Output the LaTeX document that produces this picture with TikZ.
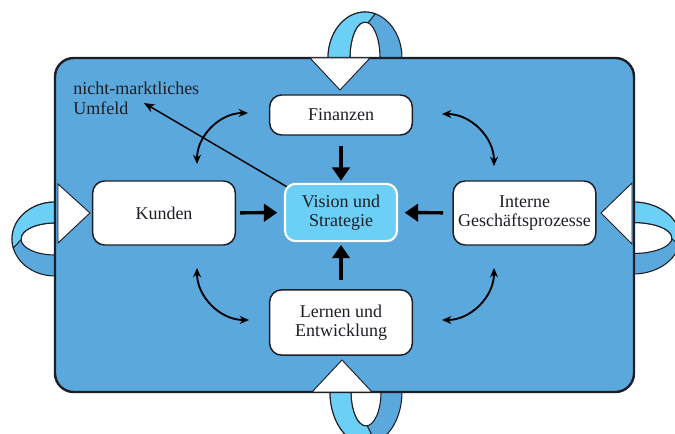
\documentclass[tikz,border=0pt]{standalone}
\usepackage{fontspec}
\setmainfont{Liberation Serif}
\usetikzlibrary{arrows.meta}
\definecolor{feld}{RGB}{91,168,220}
\definecolor{hell}{RGB}{107,207,246}
\definecolor{rand}{RGB}{30,30,38}
\begin{document}
\begin{tikzpicture}[x=0.75pt,y=0.75pt,font=\fontsize{13.5}{14.5}\selectfont,text=rand,
  box/.style={draw=rand,line width=1.1pt,fill=white,rounded corners=9pt,
    minimum width=107pt,inner xsep=2pt,align=center},
  band/.style={draw=rand,line width=0.8pt},
  keil/.style={draw=rand,line width=0.7pt,fill=white},
  gross/.style={line width=2.6pt,-{Triangle[length=10pt,width=13pt]}},
  bog/.style={line width=1.4pt,arrows={Stealth[length=7pt,width=6pt]-Stealth[length=7pt,width=6pt]}}]
  \useasboundingbox (0,0) rectangle (675,-434);
  \clip (0,0) rectangle (675,-434);
  % loops round the frame
  \draw[band,fill=feld] (328,-58) arc[start angle=180,end angle=0,x radius=37,y radius=46]
    -- (380,-58) arc[start angle=0,end angle=180,x radius=15,y radius=36] -- cycle;
  \draw[band,fill=hell] (328,-58) arc[start angle=180,end angle=74,x radius=37,y radius=46]
    -- (368.1,-22.8) arc[start angle=78,end angle=180,x radius=15,y radius=36] -- cycle;
  \draw[band,fill=feld] (330,-392) arc[start angle=180,end angle=360,x radius=36,y radius=52]
    -- (381,-392) arc[start angle=360,end angle=180,x radius=15,y radius=34] -- cycle;
  \draw[band,fill=hell] (330,-392) arc[start angle=180,end angle=285,x radius=36,y radius=52]
    -- (367.3,-425.9) arc[start angle=275,end angle=180,x radius=15,y radius=34] -- cycle;
  \draw[band,fill=feld] (55,-202) arc[start angle=90,end angle=270,x radius=43,y radius=37]
    -- (55,-255) arc[start angle=270,end angle=90,x radius=34,y radius=16] -- cycle;
  \draw[band,fill=hell] (55,-202) arc[start angle=90,end angle=194,x radius=43,y radius=37]
    -- (21.05,-239.8) arc[start angle=183,end angle=90,x radius=34,y radius=16] -- cycle;
  \draw[band,fill=feld] (633,-202) arc[start angle=90,end angle=-90,x radius=47,y radius=36]
    -- (633,-253.5) arc[start angle=-90,end angle=90,x radius=39,y radius=15.5] -- cycle;
  \draw[band,fill=hell] (633,-202) arc[start angle=90,end angle=-12,x radius=47,y radius=36]
    -- (671.9,-238.8) arc[start angle=-3,end angle=90,x radius=39,y radius=15.5] -- cycle;
  % frame
  \draw[line width=1.8pt,draw=rand,fill=feld,rounded corners=14pt] (55,-58) rectangle (634,-392);
  \draw[keil] (310,-58) -- (370,-58) -- (340,-90) -- cycle;
  \draw[keil] (312,-392) -- (372,-392) -- (342,-360) -- cycle;
  \draw[keil] (58,-184) -- (58,-243) -- (90,-213) -- cycle;
  \draw[keil] (632,-183) -- (632,-244) -- (601,-213) -- cycle;
  % boxes
  \node[box,minimum height=30pt] (fin) at (341,-115) {Finanzen};
  \node[box,minimum height=48pt] (kun) at (164,-213) {Kunden};
  \node[box,minimum height=48pt] (int) at (524.5,-213) {Interne\\Geschäftsprozesse};
  \node[box,minimum height=49pt] (ler) at (341,-322.5) {Lernen und\\Entwicklung};
  \node[inner sep=0pt,anchor=north west,align=left] (umf) at (73,-82) {nicht-marktliches\\Umfeld};
  \coordinate (ve) at (300,-194.5);
  \coordinate (uz) at (144,-103);
  \draw[line width=1.1pt,-{Stealth[length=8pt,width=6.5pt]}] (ve) -- (uz);
  \node[box,fill=hell,draw=white,line width=1.6pt,minimum width=84pt,minimum height=43pt,
    rounded corners=8pt] (vis) at (341,-212.5) {Vision und\\Strategie};
  % arrows to the centre
  \draw[gross,shorten <=7.5pt,shorten >=1.5pt] (fin) -- (vis);
  \draw[gross,shorten <=3pt,shorten >=5pt] (kun) -- (vis);
  \draw[gross,shorten <=7pt,shorten >=5pt] (int) -- (vis);
  \draw[gross,shorten <=7pt,shorten >=2pt] (ler) -- (vis);
  % curved double arrows
  \coordinate (b1) at (248,-113);
  \coordinate (b2) at (442,-114);
  \coordinate (b3) at (197,-268);
  \coordinate (b4) at (494,-268);
  \draw[bog] (b1) arc[start angle=90,end angle=180,radius=51];
  \draw[bog] (b2) arc[start angle=90,end angle=0,radius=52];
  \draw[bog] (b3) arc[start angle=180,end angle=270,radius=52];
  \draw[bog] (b4) arc[start angle=0,end angle=-90,radius=52];
\end{tikzpicture}
\end{document}
